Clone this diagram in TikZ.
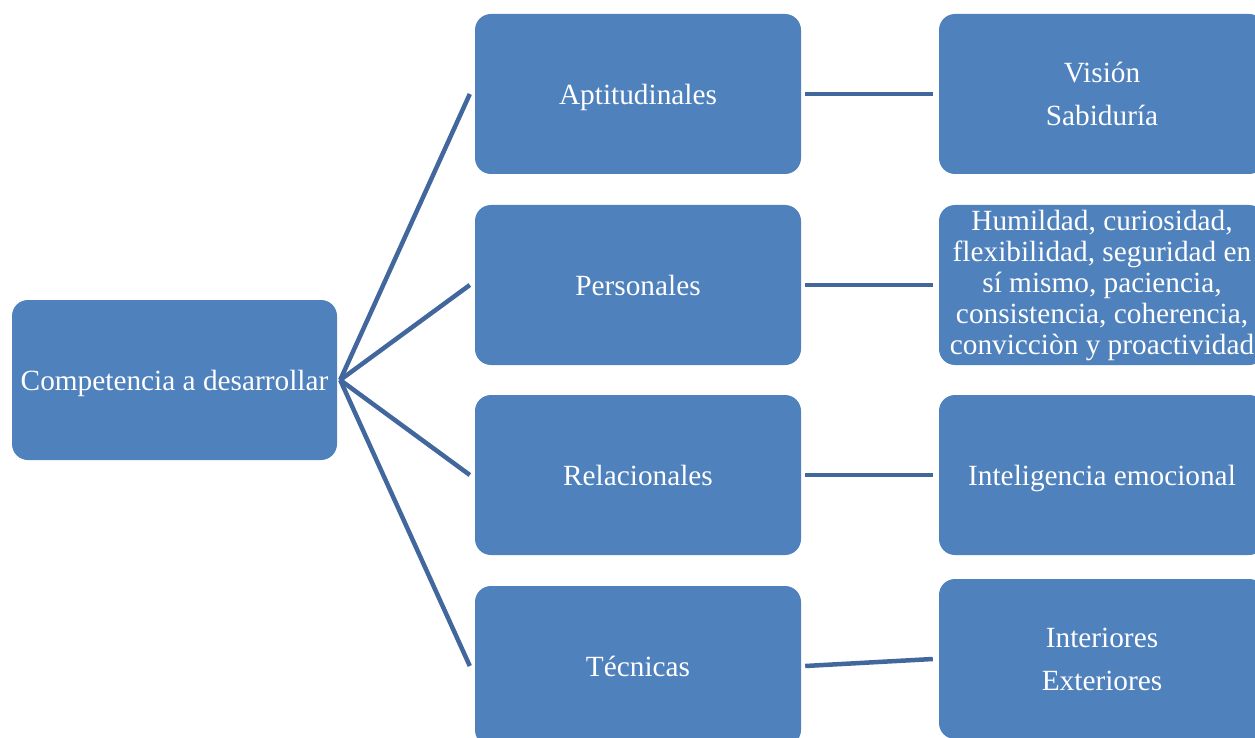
\documentclass[tikz,border=0pt]{standalone}
\usepackage{fontspec}
\setmainfont{Liberation Serif}
\usetikzlibrary{calc}
\definecolor{boxblue}{HTML}{4F81BD}
\definecolor{lineblue}{HTML}{41679D}
\tikzset{
  box/.style={rectangle, rounded corners=16pt, fill=boxblue, text=white,
    minimum width=326pt, minimum height=160pt, inner sep=0pt, align=center,
    font=\fontsize{29.3}{31}\selectfont},
  oneline/.style={text depth=0pt},
  link/.style={draw=lineblue, line width=4.5pt},
}
\begin{document}
\begin{tikzpicture}[x=1pt,y=-1pt]
\useasboundingbox (0,0) rectangle (1255,738);
\clip (0,0) rectangle (1255,738);
\node[box, oneline, minimum width=325pt] (root) at (174.5,380) {Competencia a desarrollar};
\node[box, oneline] (apt) at (638,94) {Aptitudinales};
\node[box, oneline] (per) at (638,285) {Personales};
\node[box, oneline] (rel) at (638,475) {Relacionales};
\node[box, oneline] (tec) at (638,666) {Técnicas};
\node[box] (vis) at (1102,94) {Visión\\[12pt]Sabiduría};
\node[box] (hum) at (1102,285) {Humildad, curiosidad,\\flexibilidad, seguridad en\\sí mismo, paciencia,\\consistencia, coherencia,\\convicciòn y proactividad};
\node[box, oneline] (int) at (1102,475) {Inteligencia emocional};
\node[box] (ext) at (1102,659) {Interiores\\[12pt]Exteriores};
\coordinate (rootR) at ($(root.east)+(3,0)$);
\draw[link] (rootR) -- ($(apt.west)+(-5,0)$);
\draw[link] (rootR) -- ($(per.west)+(-5,0)$);
\draw[link] (rootR) -- ($(rel.west)+(-5,0)$);
\draw[link] (rootR) -- ($(tec.west)+(-5,0)$);
\draw[link] ($(apt.east)+(4,0)$) -- ($(vis.west)+(-6,0)$);
\draw[link] ($(per.east)+(4,0)$) -- ($(hum.west)+(-6,0)$);
\draw[link] ($(rel.east)+(4,0)$) -- ($(int.west)+(-6,0)$);
\draw[link] ($(tec.east)+(4,0)$) -- ($(ext.west)+(-6,0)$);
\end{tikzpicture}
\end{document}
